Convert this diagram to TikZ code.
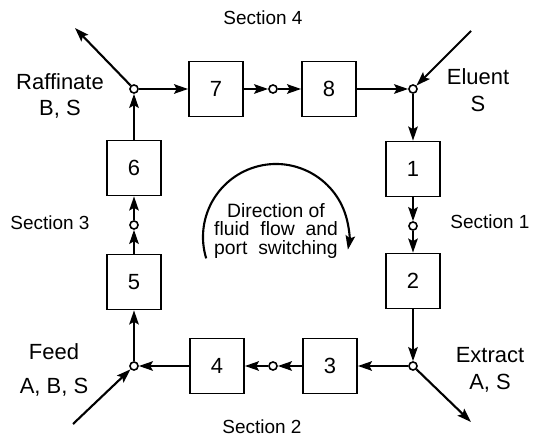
\documentclass[tikz,border=0pt]{standalone}
\usepackage{fontspec}
\setmainfont{Liberation Sans}
\usetikzlibrary{arrows.meta, positioning}

\begin{document}
\begin{tikzpicture}[x=0.02cm, y=0.02cm, >={Stealth[length=8pt,width=5.4pt,inset=1.5pt]},
    column/.style={draw, line width=1pt, minimum width=1.08cm, minimum height=1.1cm,
      inner sep=0pt, font=\fontsize{12.5}{14}\selectfont},
    port/.style={draw, circle, fill=white, line width=0.9pt, minimum size=4.6pt, inner sep=0pt},
    flow/.style={->, line width=1.2pt},
    stream/.style={align=center, font=\fontsize{12.5}{15}\selectfont},
    section/.style={font=\fontsize{10.8}{12}\selectfont}]

        \useasboundingbox (0, 0) rectangle (533, 436);

        % the eight columns
        \node[column] (c1) at (413, 267) {1};
        \node[column] (c2) at (413, 155) {2};
        \node[column] (c3) at (330, 70) {3};
        \node[column] (c4) at (217, 70) {4};
        \node[column] (c5) at (134, 154) {5};
        \node[column] (c6) at (134, 268) {6};
        \node[column] (c7) at (216, 347) {7};
        \node[column] (c8) at (329, 347) {8};

        % ports between the columns
        \node[port] (eluent) at (413, 347) {};
        \node[port] (extract) at (413, 70) {};
        \node[port] (feed) at (134, 70) {};
        \node[port] (raffinate) at (134, 347) {};
        \node[port] (p12) at (413, 210) {};
        \node[port] (p34) at (273, 70) {};
        \node[port] (p56) at (134, 211) {};
        \node[port] (p78) at (273, 347) {};

        \coordinate (eluentin) at (471, 405);
        \coordinate (raffout) at (75, 408);
        \coordinate (extractout) at (471, 14);
        \coordinate (feedin) at (73, 12);

        % ring of columns
        \draw[flow] (c1) -- (p12);
        \draw[flow] (p12) -- (c2);
        \draw[flow] (c2) -- (extract);
        \draw[flow] (extract) -- (c3);
        \draw[flow] (c3) -- (p34);
        \draw[flow] (p34) -- (c4);
        \draw[flow] (c4) -- (feed);
        \draw[flow] (feed) -- (c5);
        \draw[flow] (c5) -- (p56);
        \draw[flow] (p56) -- (c6);
        \draw[flow] (c6) -- (raffinate);
        \draw[flow] (raffinate) -- (c7);
        \draw[flow] (c7) -- (p78);
        \draw[flow] (p78) -- (c8);
        \draw[flow] (c8) -- (eluent);
        \draw[flow] (eluent) -- (c1);

        % streams in and out
        \draw[flow] (eluentin) -- (eluent);
        \draw[flow] (raffinate) -- (raffout);
        \draw[flow] (extract) -- (extractout);
        \draw[flow] (feedin) -- (feed);

        \node[stream] (raffl) at (60, 340) {Raffinate\\B, S};
        \node[stream] (eluentl) at (478, 346) {Eluent\\S};
        \node[stream] (extractl) at (490, 66) {Extract\\A, S};
        \node[stream, font=\fontsize{12.5}{19}\selectfont] (feedl) at (54, 66) {Feed\\A, B, S};

        \node[section] (s1) at (490, 214) {Section 1};
        \node[section] (s2) at (262, 9) {Section 2};
        \node[section] (s3) at (50, 213) {Section 3};
        \node[section] (s4) at (263, 418) {Section 4};

        % direction of switching
        \draw[flow] (276, 199) ++(197:73) arc[start angle=197, end angle=-10, radius=73];
        \node[align=center, font=\fontsize{11}{10.8}\selectfont] (dir) at (276, 205)
          {Direction of\\fluid\ \ flow\ \ and\\port\ \ switching};
      \end{tikzpicture}
\end{document}
